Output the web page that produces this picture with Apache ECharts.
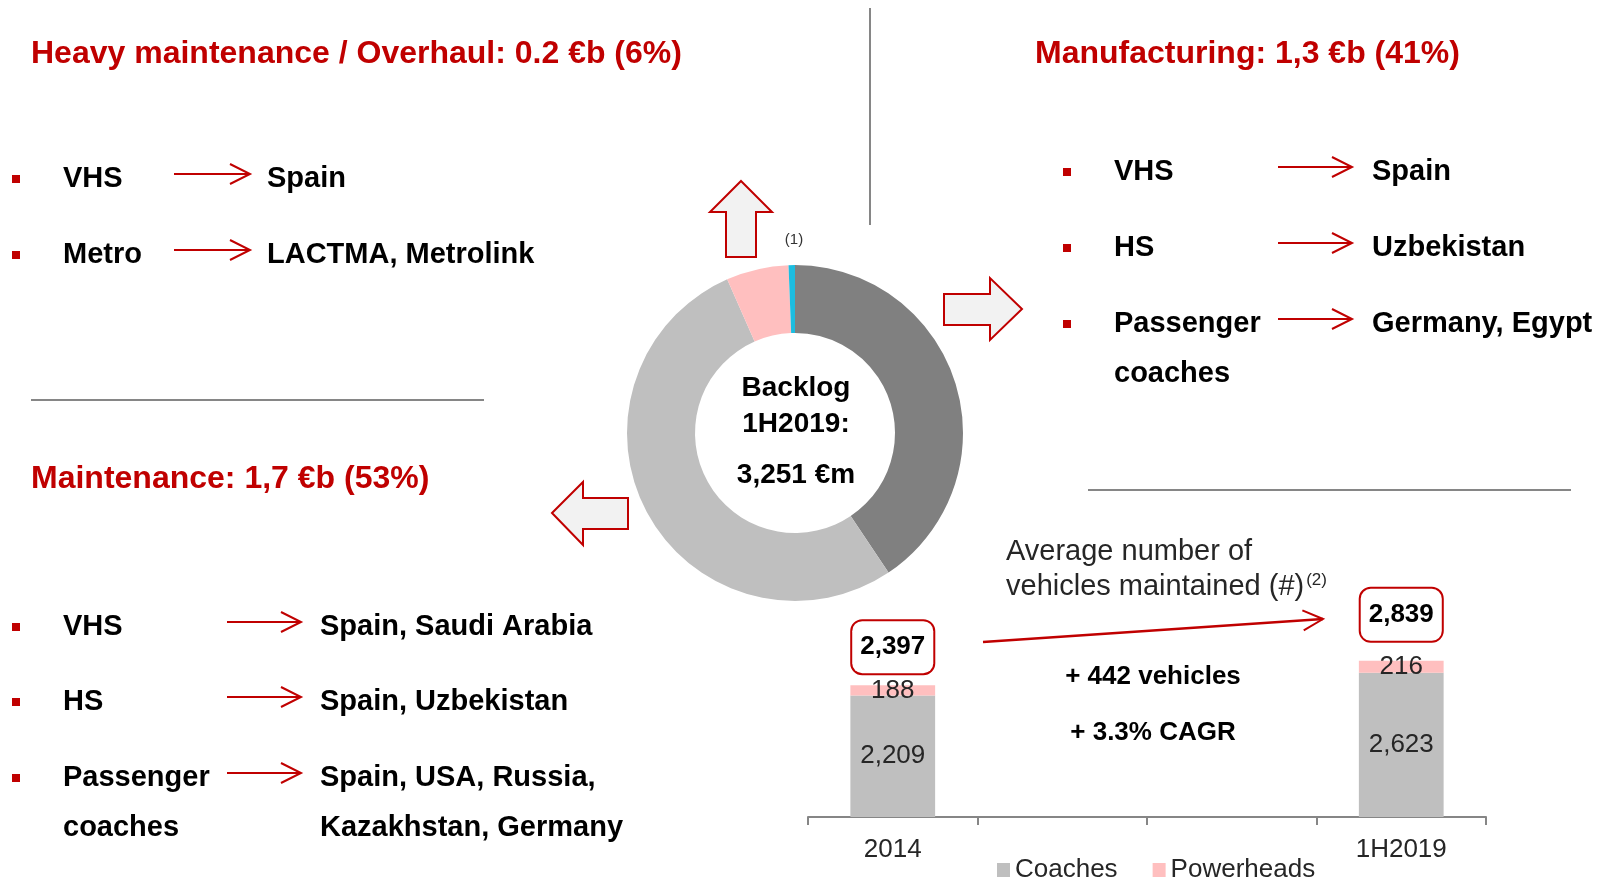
<!DOCTYPE html>
<html>
<head>
<meta charset="utf-8">
<title>Backlog 1H2019</title>
<script src="https://cdn.jsdelivr.net/npm/echarts@6/dist/echarts.min.js"></script>
<style>
html, body { margin: 0; padding: 0; background: #fff; }
#chart { width: 1610px; height: 880px; }
</style>
</head>
<body>
<div id="chart"></div>
<script>
// backlog split (€m)
const pieNames = ['Manufacturing', 'Maintenance', 'Heavy maintenance / Overhaul', 'Other']
const pieValues = [1320, 1716, 195, 20]
const pieColors = ['#808080', '#bfbfbf', '#ffbfbf', '#1cbde0']

// vehicles maintained
const barCategories = ['2014', ' ', '  ', '1H2019']
const coaches = [2209, null, null, 2623]
const powerheads = [188, null, null, 216]

// text lists
const heavyList = [['VHS', 'Spain'], ['Metro', 'LACTMA, Metrolink']]
const manufList = [['VHS', 'Spain'], ['HS', 'Uzbekistan'], ['Passenger\ncoaches', 'Germany, Egypt']]
const maintList = [['VHS', 'Spain, Saudi Arabia'], ['HS', 'Spain, Uzbekistan'], ['Passenger\ncoaches', 'Spain, USA, Russia,\nKazakhstan, Germany']]

const totals = coaches.map((v, i) => v == null ? null : v + powerheads[i])
// box offset above each total bar
const totalGap = [12, 20, 20, 20]

const FONT = '"Liberation Sans", Arial, sans-serif'
const RED = '#c00000'
const GREY = '#868686'

function fmt (v) {
  return Number(v).toLocaleString('en-US')
}

function text (x, y, str, size, opt) {
  opt = opt || {}
  return {
    type: 'text',
    silent: true,
    style: {
      x: x,
      y: y,
      text: str,
      fill: opt.color || '#000',
      fontSize: size,
      fontWeight: opt.weight || 'bold',
      fontFamily: FONT,
      align: opt.align || 'left',
      verticalAlign: opt.valign || 'middle',
      lineHeight: opt.lineHeight,
      rich: opt.rich
    }
  }
}

function line (x1, y1, x2, y2, color, w) {
  return {
    type: 'line',
    silent: true,
    shape: { x1: x1, y1: y1, x2: x2, y2: y2 },
    style: { stroke: color, lineWidth: w }
  }
}

function arrowHead (x, y, dx, dy, size) {
  // open V head pointing along (dx, dy)
  let len = Math.sqrt(dx * dx + dy * dy)
  let ux = dx / len, uy = dy / len
  let bx = x - ux * size, by = y - uy * size
  return {
    type: 'polyline',
    silent: true,
    shape: { points: [[bx - uy * size * 0.5, by + ux * size * 0.5], [x, y], [bx + uy * size * 0.5, by - ux * size * 0.5]] },
    style: { stroke: RED, lineWidth: 2, fill: null }
  }
}

function blockArrow (points) {
  return {
    type: 'polygon',
    silent: true,
    shape: { points: points },
    style: { fill: '#f2f2f2', stroke: RED, lineWidth: 2 }
  }
}

function list (items, ys, col) {
  let els = []
  items.forEach((it, i) => {
    let y = ys[i]
    els.push({ type: 'rect', silent: true, shape: { x: col.bullet - 4, y: y - 4, width: 8, height: 8 }, style: { fill: RED } })
    els.push(text(col.label, y - 25, it[0], 29, { valign: 'top', lineHeight: 50 }))
    els.push(line(col.a1, y - 5, col.a2, y - 5, RED, 2))
    els.push(arrowHead(col.a2, y - 5, 1, 0, 20))
    els.push(text(col.value, y - 25, it[1], 29, { valign: 'top', lineHeight: 50 }))
  })
  return els
}

let graphics = []
  .concat([
    text(31, 54, 'Heavy maintenance / Overhaul: 0.2 €b (6%)', 32, { color: RED }),
    text(1035, 54, 'Manufacturing: 1,3 €b (41%)', 32, { color: RED }),
    text(31, 479, 'Maintenance: 1,7 €b (53%)', 32, { color: RED }),
    line(870, 8, 870, 225, GREY, 2),
    line(31, 400, 484, 400, GREY, 2),
    line(1088, 490, 1571, 490, GREY, 2),
    blockArrow([[741, 181], [772, 212], [756, 212], [756, 257], [726, 257], [726, 212], [710, 212]]),
    blockArrow([[944, 294], [990, 294], [990, 278], [1022, 309], [990, 340], [990, 325], [944, 325]]),
    blockArrow([[552, 513], [583, 482], [583, 498], [628, 498], [628, 529], [583, 529], [583, 545]]),
    text(794, 240, '(1)', 15, { weight: 'normal', color: '#333', align: 'center' }),
    text(796, 388, 'Backlog', 28, { align: 'center' }),
    text(796, 424, '1H2019:', 28, { align: 'center' }),
    text(796, 475, '3,251 €m', 28, { align: 'center' }),
    text(1006, 552, 'Average number of', 29, { weight: 'normal', color: '#262626' }),
    text(1006, 587, '{a|vehicles maintained (#)}{s|(2)}', 29, {
      weight: 'normal',
      color: '#262626',
      rich: {
        a: { fontSize: 29, fontFamily: FONT, color: '#262626' },
        s: { fontSize: 17, fontFamily: FONT, color: '#262626', verticalAlign: 'top', padding: [0, 0, 14, 2] }
      }
    }),
    line(983, 642, 1323, 619, RED, 2.5),
    arrowHead(1323, 619, 340, -23, 20),
    text(1153, 677, '+ 442 vehicles', 26, { align: 'center' }),
    text(1153, 733, '+ 3.3% CAGR', 26, { align: 'center' })
  ])
  .concat(list(heavyList, [179, 255], { bullet: 16, label: 63, a1: 174, a2: 250, value: 267 }))
  .concat(list(manufList, [172, 248, 324], { bullet: 1067, label: 1114, a1: 1278, a2: 1352, value: 1372 }))
  .concat(list(maintList, [627, 702, 778], { bullet: 16, label: 63, a1: 227, a2: 301, value: 320 }))

let chart = echarts.init(document.getElementById('chart'))
let option = {
  animation: false,
  textStyle: { fontFamily: FONT },
  legend: {
    data: ['Coaches', 'Powerheads'],
    left: 992,
    top: 852,
    icon: 'rect',
    itemWidth: 13,
    itemHeight: 14,
    itemGap: 35,
    selectedMode: false,
    textStyle: { fontSize: 26, color: '#262626', fontFamily: FONT }
  },
  grid: { left: 808, top: 652, width: 678, height: 165 },
  xAxis: {
    type: 'category',
    data: barCategories,
    axisLine: { show: true, lineStyle: { color: GREY, width: 2 } },
    axisTick: { show: true, alignWithLabel: false, interval: 0, length: 8, lineStyle: { color: GREY, width: 2 } },
    axisLabel: { fontSize: 26, color: '#262626', margin: 20, fontFamily: FONT }
  },
  yAxis: { type: 'value', show: false, min: 0, max: 3000 },
  series: [{
    type: 'pie',
    silent: true,
    center: [795, 433],
    radius: [100, 168],
    startAngle: 90,
    label: { show: false },
    labelLine: { show: false },
    emphasis: { disabled: true },
    data: pieNames.map((n, i) => ({ name: n, value: pieValues[i], itemStyle: { color: pieColors[i] } }))
  }, {
    name: 'Coaches',
    type: 'bar',
    stack: 'v',
    barWidth: '50%',
    silent: true,
    data: coaches,
    itemStyle: { color: '#bfbfbf' },
    label: { show: true, position: 'inside', fontSize: 26, color: '#262626', fontFamily: FONT, formatter: p => fmt(p.value) }
  }, {
    name: 'Powerheads',
    type: 'bar',
    stack: 'v',
    barWidth: '50%',
    silent: true,
    data: powerheads,
    itemStyle: { color: '#ffbfbf' },
    label: { show: true, position: 'inside', fontSize: 26, color: '#262626', fontFamily: FONT, formatter: p => fmt(p.value) }
  }, {
    name: 'Total',
    type: 'bar',
    barWidth: '50%',
    barGap: '-100%',
    silent: true,
    z: 1,
    data: totals.map((v, i) => ({ value: v, label: { distance: totalGap[i] } })),
    itemStyle: { color: 'rgba(0,0,0,0)' },
    label: {
      show: true,
      position: 'top',
      fontSize: 26,
      fontWeight: 'bold',
      color: '#000',
      fontFamily: FONT,
      backgroundColor: '#fff',
      borderColor: RED,
      borderWidth: 2,
      borderRadius: 10,
      padding: [13, 8],
      formatter: p => fmt(p.value)
    }
  }],
  graphic: { elements: graphics }
}

chart.setOption(option)
window.addEventListener('resize', function () {
  chart.resize()
})
</script>
</body>
</html>
